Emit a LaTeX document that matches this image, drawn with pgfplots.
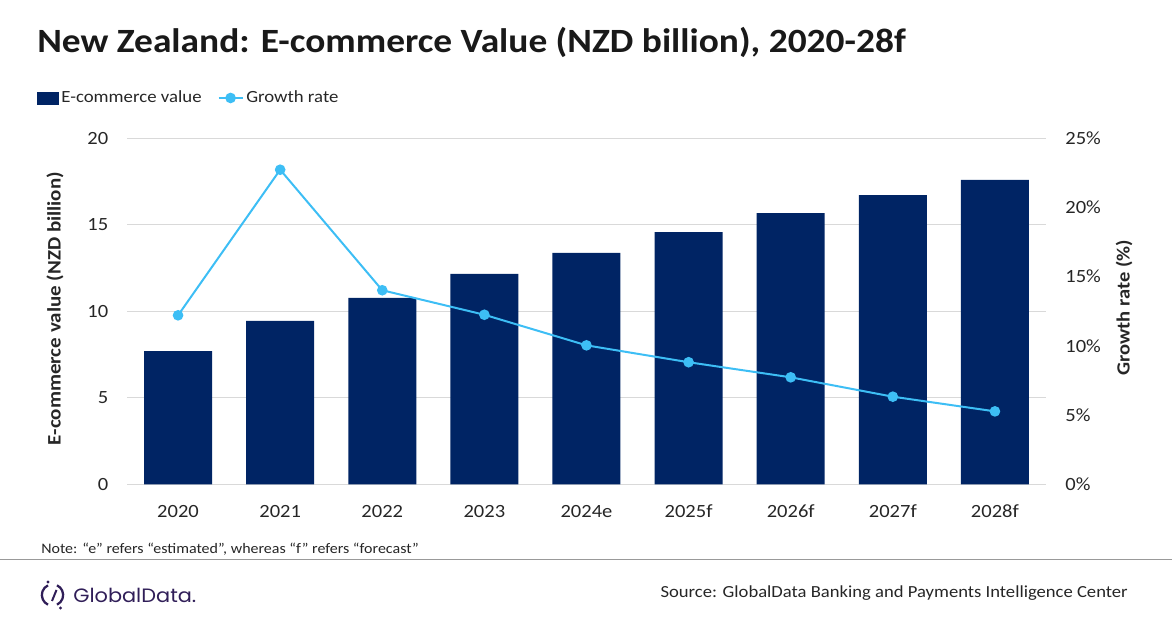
\documentclass[border=0pt]{standalone}
\usepackage{pgfplots}
\pgfplotsset{compat=1.18}
\usepackage{fontspec}
\setmainfont{Carlito}[FakeStretch=1.1]
\newfontfamily\logofont{Poppins}[FakeStretch=1.08]
\definecolor{navy}{RGB}{0,36,100}
\definecolor{sky}{RGB}{61,190,245}
\definecolor{gridc}{RGB}{217,217,217}
\definecolor{txt}{RGB}{38,38,38}
\definecolor{logoc}{RGB}{48,30,88}
\begin{document}
\begin{tikzpicture}
\path[use as bounding box] (0pt,0pt) rectangle (879pt,471pt);

\begin{axis}[
 at={(95.25pt,107.775pt)}, anchor=south west,
 scale only axis, width=689.25pt, height=259.5pt,
 xmin=-0.5, xmax=8.5, ymin=0, ymax=20,
 xtick={0,...,8}, xticklabels={2020,2021,2022,2023,2024e,2025f,2026f,2027f,2028f},
 ytick={0,5,10,15,20}, yticklabels={0,5,10,15,20},
 ymajorgrids, grid style={gridc, line width=0.75pt},
 axis line style={draw=none}, major tick length=0,
 tick label style={font=\fontsize{14}{16}\selectfont, text=txt},
 yticklabel style={xshift=-10.5pt},
 xticklabel style={yshift=-12pt},
 ybar, bar width=51pt,
 clip=false,
]
\addplot[fill=navy, draw=none, bar shift=0pt] coordinates {(0,7.70)(1,9.45)(2,10.78)(3,12.16)(4,13.37)(5,14.58)(6,15.68)(7,16.72)(8,17.59)};
\end{axis}

\begin{axis}[
 at={(95.25pt,107.775pt)}, anchor=south west,
 scale only axis, width=689.25pt, height=259.5pt,
 xmin=-0.5, xmax=8.5, ymin=0, ymax=25,
 axis y line*=right, hide x axis,
 axis line style={draw=none}, major tick length=0,
 ytick={0,5,10,15,20,25}, yticklabels={0\%,5\%,10\%,15\%,20\%,25\%},
 tick label style={font=\fontsize{14}{16}\selectfont, text=txt},
 yticklabel style={xshift=11pt},
 clip=false,
 legend style={at={(-0.098,1.1165)}, anchor=west, draw=none, fill=none, inner sep=0pt,
   font=\fontsize{12.8}{15}\selectfont, text=txt, legend columns=2,
   /tikz/every even column/.append style={column sep=10pt}},
 legend cell align=left,
]
\addlegendimage{legend image code/.code={\fill[navy] (0pt,-4.5pt) rectangle (15.75pt,4.5pt);}}
\addlegendentry{E-commerce value}
\addplot[sky, line width=1.5pt, mark=*, mark size=3.2pt, mark options={fill=sky, draw=sky},
  legend image code/.code={\draw[sky, line width=1.5pt] (0pt,0pt) -- (18pt,0pt); \fill[sky] (9pt,0pt) circle (3.2pt);}]
  coordinates {(0,12.21)(1,22.73)(2,14.02)(3,12.25)(4,10.04)(5,8.82)(6,7.73)(7,6.33)(8,5.27)};
\addlegendentry{Growth rate}
\end{axis}

\begin{scope}[x=0.75pt,y=0.75pt]
\node[anchor=base west, font=\fontsize{25.5}{29}\selectfont\bfseries, text=black!90, inner sep=0] at (37,575) {New Zealand: E-commerce Value (NZD billion), 2020-28f};
\node[rotate=90, font=\fontsize{14.3}{16}\selectfont\bfseries, text=txt] at (55,319.5) {E-commerce value (NZD billion)};
\node[rotate=90, font=\fontsize{14}{16}\selectfont\bfseries, text=txt] at (1124,320) {Growth rate (\%)};

\node[anchor=base west, font=\fontsize{10.9}{12}\selectfont, text=txt, inner sep=0] at (41,74) {Note: “e” refers “estimated”, whereas “f” refers “forecast”};
\draw[black!40, line width=1.1pt] (0,68.7) -- (1172,68.7);
\node[anchor=base east, font=\fontsize{12.7}{14}\selectfont, inner sep=0, text=txt] at (1128,30) {Source: GlobalData Banking and Payments Intelligence Center};

\draw[logoc, line width=1.7pt] (52.5,33) ++(115:8pt) arc (115:245:8pt);
\draw[logoc, line width=1.7pt] (52.5,33) ++(-65:8pt) arc (-65:65:8pt);
\draw[logoc, line width=1.5pt] (56.5,38) -- (52,27);
\fill[logoc] (48,46) circle (1.3pt);
\fill[logoc] (60.5,20) circle (1.3pt);
\node[anchor=west, inner sep=0, font=\logofont\fontsize{14.5}{16}\selectfont, text=logoc] at (73,33) {GlobalData.};
\end{scope}
\end{tikzpicture}
\end{document}
